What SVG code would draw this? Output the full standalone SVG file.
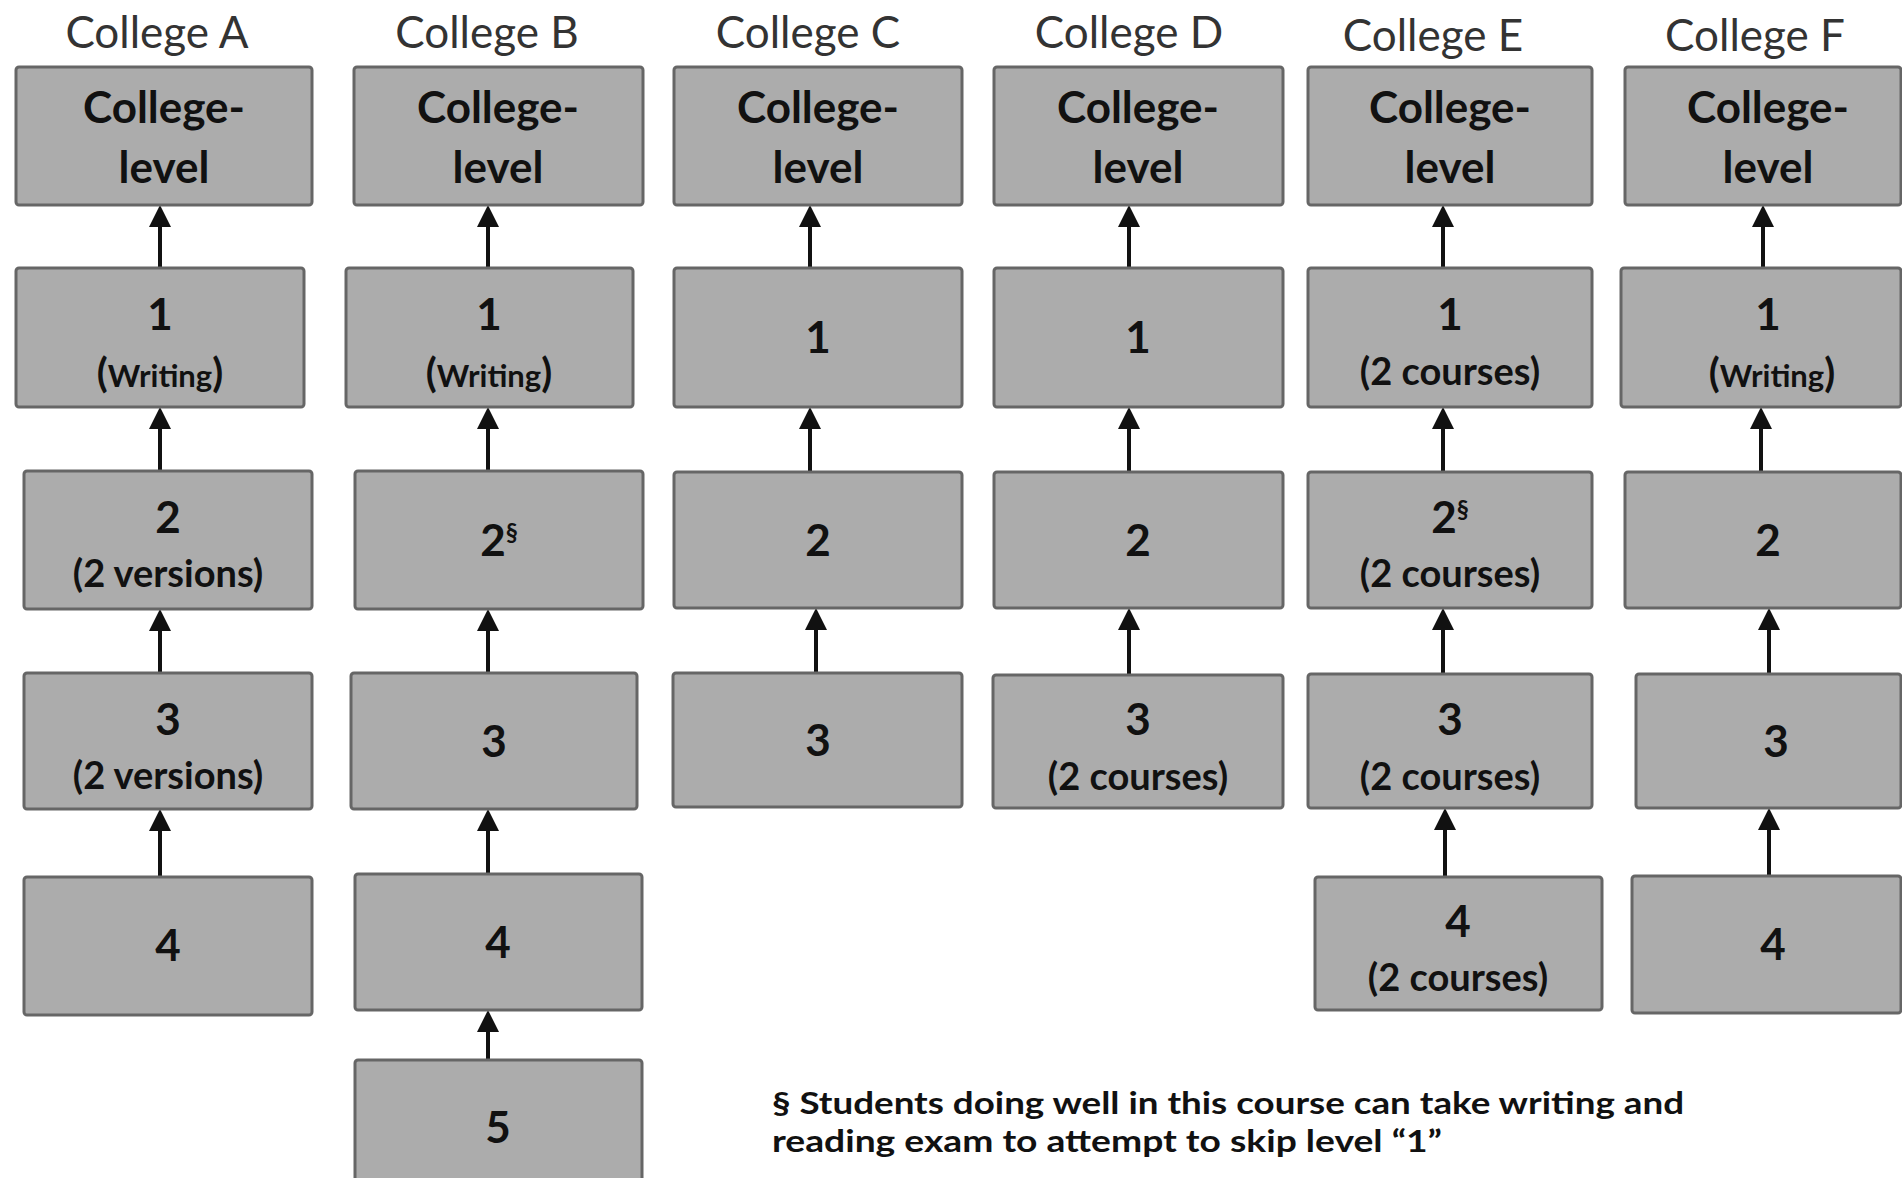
<svg xmlns="http://www.w3.org/2000/svg" width="1902" height="1178" viewBox="0 0 1902 1178">
<defs>
<style>
.bg{fill:#ffffff}
.box{fill:#acacac;stroke:#666666;stroke-width:3}
.title{font-family:Lato,"Open Sans",sans-serif;font-size:44px;fill:#333333;text-anchor:middle}
.lbl{font-family:Lato,"Open Sans",sans-serif;font-weight:bold;font-size:44px;fill:#111111;text-anchor:middle}
.sub{font-size:38px}
.wr{font-size:31px}
.par{font-size:40px}
.sup{font-size:24px}
.note{font-family:Lato,"Open Sans",sans-serif;font-weight:bold;font-size:31px;fill:#111111}
.conn{stroke:#111111;stroke-width:4;fill:none;marker-end:url(#ah)}
</style>
<marker id="ah" markerUnits="userSpaceOnUse" markerWidth="22" markerHeight="22" viewBox="0 0 22 22" refX="0" refY="11" orient="auto">
<path d="M0,0 L22,11 L0,22 Z" fill="#111111"/>
</marker>
</defs>
<rect class="bg" x="0" y="0" width="1902" height="1178"/>

<g id="titles">
<text class="title" x="157" y="48">College A</text>
<text class="title" x="487" y="48">College B</text>
<text class="title" x="808" y="48">College C</text>
<text class="title" x="1129" y="48">College D</text>
<text class="title" x="1433" y="51">College E</text>
<text class="title" x="1755" y="51">College F</text>
</g>

<g id="connectors">
<line class="conn" x1="160" y1="268" x2="160" y2="227"/>
<line class="conn" x1="160" y1="471" x2="160" y2="429"/>
<line class="conn" x1="160" y1="673" x2="160" y2="631"/>
<line class="conn" x1="160" y1="877" x2="160" y2="831"/>

<line class="conn" x1="488" y1="268" x2="488" y2="227"/>
<line class="conn" x1="488" y1="471" x2="488" y2="429"/>
<line class="conn" x1="488" y1="673" x2="488" y2="631"/>
<line class="conn" x1="488" y1="874" x2="488" y2="831"/>
<line class="conn" x1="488" y1="1060" x2="488" y2="1032"/>

<line class="conn" x1="810" y1="268" x2="810" y2="227"/>
<line class="conn" x1="810" y1="472" x2="810" y2="429"/>
<line class="conn" x1="816" y1="673" x2="816" y2="630"/>

<line class="conn" x1="1129" y1="268" x2="1129" y2="227"/>
<line class="conn" x1="1129" y1="472" x2="1129" y2="429"/>
<line class="conn" x1="1129" y1="675" x2="1129" y2="630"/>

<line class="conn" x1="1443" y1="268" x2="1443" y2="227"/>
<line class="conn" x1="1443" y1="472" x2="1443" y2="429"/>
<line class="conn" x1="1443" y1="674" x2="1443" y2="630"/>
<line class="conn" x1="1445" y1="877" x2="1445" y2="830"/>

<line class="conn" x1="1763" y1="268" x2="1763" y2="227"/>
<line class="conn" x1="1761" y1="472" x2="1761" y2="429"/>
<line class="conn" x1="1769" y1="674" x2="1769" y2="630"/>
<line class="conn" x1="1769" y1="876" x2="1769" y2="830"/>
</g>

<g id="A-CL"><rect class="box" x="16" y="67" width="296" height="138" rx="3"/><text class="lbl" x="164" y="123">College-</text><text class="lbl" x="164" y="183">level</text></g>
<g id="A-1"><rect class="box" x="16" y="268" width="288" height="139" rx="3"/><text class="lbl" x="160" y="330">1</text><text class="lbl" x="160" y="387"><tspan class="par">(</tspan><tspan class="wr">Writing</tspan><tspan class="par">)</tspan></text></g>
<g id="A-2"><rect class="box" x="24" y="471" width="288" height="138" rx="3"/><text class="lbl" x="168" y="533">2</text><text class="lbl sub" x="168" y="587">(2 versions)</text></g>
<g id="A-3"><rect class="box" x="24" y="673" width="288" height="136" rx="3"/><text class="lbl" x="168" y="735">3</text><text class="lbl sub" x="168" y="789">(2 versions)</text></g>
<g id="A-4"><rect class="box" x="24" y="877" width="288" height="138" rx="3"/><text class="lbl" x="168" y="961">4</text></g>

<g id="B-CL"><rect class="box" x="354" y="67" width="289" height="138" rx="3"/><text class="lbl" x="498" y="123">College-</text><text class="lbl" x="498" y="183">level</text></g>
<g id="B-1"><rect class="box" x="346" y="268" width="287" height="139" rx="3"/><text class="lbl" x="489" y="330">1</text><text class="lbl" x="489" y="387"><tspan class="par">(</tspan><tspan class="wr">Writing</tspan><tspan class="par">)</tspan></text></g>
<g id="B-2"><rect class="box" x="355" y="471" width="288" height="138" rx="3"/><text class="lbl" x="499" y="556">2<tspan class="sup" dy="-15">§</tspan></text></g>
<g id="B-3"><rect class="box" x="351" y="673" width="286" height="136" rx="3"/><text class="lbl" x="494" y="757">3</text></g>
<g id="B-4"><rect class="box" x="355" y="874" width="287" height="136" rx="3"/><text class="lbl" x="498" y="958">4</text></g>
<g id="B-5"><rect class="box" x="355" y="1060" width="287" height="140" rx="3"/><text class="lbl" x="498" y="1143">5</text></g>

<g id="C-CL"><rect class="box" x="674" y="67" width="288" height="138" rx="3"/><text class="lbl" x="818" y="123">College-</text><text class="lbl" x="818" y="183">level</text></g>
<g id="C-1"><rect class="box" x="674" y="268" width="288" height="139" rx="3"/><text class="lbl" x="818" y="353">1</text></g>
<g id="C-2"><rect class="box" x="674" y="472" width="288" height="136" rx="3"/><text class="lbl" x="818" y="556">2</text></g>
<g id="C-3"><rect class="box" x="673" y="673" width="289" height="134" rx="3"/><text class="lbl" x="818" y="756">3</text></g>

<g id="D-CL"><rect class="box" x="994" y="67" width="289" height="138" rx="3"/><text class="lbl" x="1138" y="123">College-</text><text class="lbl" x="1138" y="183">level</text></g>
<g id="D-1"><rect class="box" x="994" y="268" width="289" height="139" rx="3"/><text class="lbl" x="1138" y="353">1</text></g>
<g id="D-2"><rect class="box" x="994" y="472" width="289" height="136" rx="3"/><text class="lbl" x="1138" y="556">2</text></g>
<g id="D-3"><rect class="box" x="993" y="675" width="290" height="133" rx="3"/><text class="lbl" x="1138" y="735">3</text><text class="lbl sub" x="1138" y="790">(2 courses)</text></g>

<g id="E-CL"><rect class="box" x="1308" y="67" width="284" height="138" rx="3"/><text class="lbl" x="1450" y="123">College-</text><text class="lbl" x="1450" y="183">level</text></g>
<g id="E-1"><rect class="box" x="1308" y="268" width="284" height="139" rx="3"/><text class="lbl" x="1450" y="330">1</text><text class="lbl sub" x="1450" y="385">(2 courses)</text></g>
<g id="E-2"><rect class="box" x="1308" y="472" width="284" height="136" rx="3"/><text class="lbl" x="1450" y="533">2<tspan class="sup" dy="-15">§</tspan></text><text class="lbl sub" x="1450" y="587">(2 courses)</text></g>
<g id="E-3"><rect class="box" x="1308" y="674" width="284" height="134" rx="3"/><text class="lbl" x="1450" y="735">3</text><text class="lbl sub" x="1450" y="790">(2 courses)</text></g>
<g id="E-4"><rect class="box" x="1315" y="877" width="287" height="133" rx="3"/><text class="lbl" x="1458" y="937">4</text><text class="lbl sub" x="1458" y="991">(2 courses)</text></g>

<g id="F-CL"><rect class="box" x="1625" y="67" width="276" height="138" rx="3"/><text class="lbl" x="1768" y="123">College-</text><text class="lbl" x="1768" y="183">level</text></g>
<g id="F-1"><rect class="box" x="1621" y="268" width="280" height="139" rx="3"/><text class="lbl" x="1768" y="330">1</text><text class="lbl" x="1772" y="387"><tspan class="par">(</tspan><tspan class="wr">Writing</tspan><tspan class="par">)</tspan></text></g>
<g id="F-2"><rect class="box" x="1625" y="472" width="276" height="136" rx="3"/><text class="lbl" x="1768" y="556">2</text></g>
<g id="F-3"><rect class="box" x="1636" y="674" width="265" height="134" rx="3"/><text class="lbl" x="1776" y="757">3</text></g>
<g id="F-4"><rect class="box" x="1632" y="876" width="269" height="137" rx="3"/><text class="lbl" x="1773" y="960">4</text></g>

<g id="footnote">
<text class="note" x="772" y="1114" textLength="912" lengthAdjust="spacingAndGlyphs">§ Students doing well in this course can take writing and</text>
<text class="note" x="772" y="1152" textLength="670" lengthAdjust="spacingAndGlyphs">reading exam to attempt to skip level “1”</text>
</g>
</svg>
